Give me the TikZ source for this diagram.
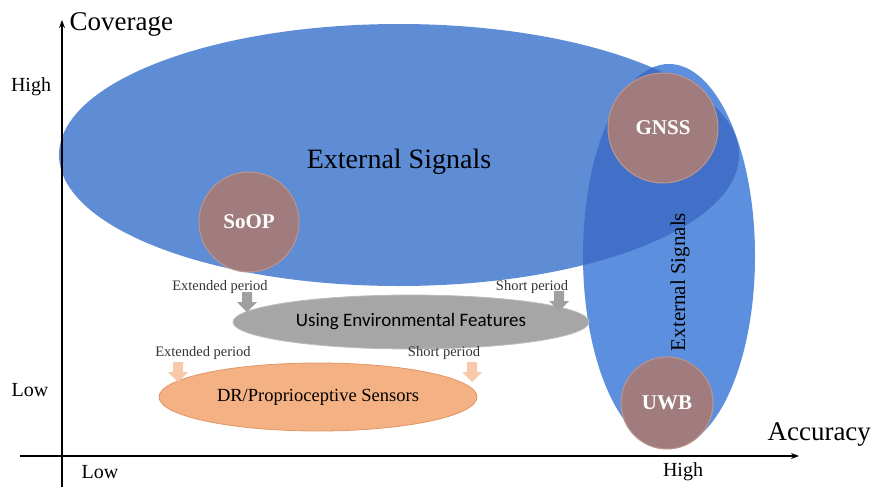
\documentclass[tikz,border=0pt]{standalone}
\usepackage{fontspec}
\setmainfont{Liberation Serif}
\newfontfamily\calfont{Carlito}
\usetikzlibrary{shapes.geometric,arrows.meta}
\definecolor{bigblue}{RGB}{94,141,214}
\definecolor{vblue}{RGB}{92,143,222}
\definecolor{overblue}{RGB}{66,112,200}
\definecolor{circfill}{RGB}{160,124,126}
\definecolor{circedge}{RGB}{190,150,140}
\definecolor{grayfill}{RGB}{166,166,166}
\definecolor{grayedge}{RGB}{190,190,190}
\definecolor{orfill}{RGB}{244,177,131}
\definecolor{oredge}{RGB}{226,150,100}
\definecolor{grayarrow}{RGB}{160,160,160}
\definecolor{orarrow}{RGB}{248,200,170}
\tikzset{
  region/.style={ellipse, inner sep=0pt},
  tech/.style={circle, fill=circfill, draw=circedge, line width=1pt, inner sep=0pt,
    text=white, font=\bfseries\fontsize{21}{23}\selectfont},
  period/.style={font=\fontsize{14.5}{16}\selectfont, inner sep=1pt, text=black!80},
  axislab/.style={font=\fontsize{20}{22}\selectfont},
  blockgray/.style={draw=none, fill=grayarrow},
  blockor/.style={draw=none, fill=orarrow},
}
\newcommand{\blockarrow}[3]{% style, x, ytop
  \fill[#1] (#2-5,#3) -- (#2+5,#3) -- (#2+5,#3+10) -- (#2+10,#3+10) -- (#2,#3+20) -- (#2-10,#3+10) -- (#2-5,#3+10) -- cycle;}
\begin{document}
\begin{tikzpicture}[x=1pt,y=-1pt]
\useasboundingbox (0,0) rectangle (872,487);
% regions
\node[region, fill=bigblue, minimum width=680pt, minimum height=262pt] (ext) at (399,155) {};
\node[region, fill=vblue, minimum width=172pt, minimum height=384pt] (vext) at (669,256) {};
\begin{scope}
  \clip (399,155) ellipse [x radius=340, y radius=131];
  \fill[overblue] (669,256) ellipse [x radius=86, y radius=192];
\end{scope}
\node[font=\fontsize{28}{30}\selectfont] (exttxt) at (399,162) {External Signals};
\node[font=\fontsize{21}{23}\selectfont, rotate=90] (vexttxt) at (680,282) {External Signals};
% gray ellipse
\node[region, fill=grayfill, draw=grayedge, line width=0.8pt, minimum width=356pt, minimum height=54pt,
  font=\calfont\fontsize{19}{21}\selectfont] (env) at (411,322) {Using Environmental Features};
% orange ellipse
\node[region, fill=orfill, draw=oredge, line width=0.8pt, minimum width=318pt, minimum height=68pt,
  font=\fontsize{18.5}{20}\selectfont] (dr) at (318,397) {DR/Proprioceptive Sensors};
% tech circles
\node[tech, minimum size=110pt] (gnss) at (663,128) {GNSS};
\node[tech, minimum size=100pt] (soop) at (249,222) {SoOP};
\node[tech, minimum size=92pt] (uwb) at (667,403) {UWB};
% period labels
\node[period] (ep1) at (220,287) {Extended period};
\node[period] (sp1) at (532,287) {Short period};
\node[period] (ep2) at (203,353) {Extended period};
\node[period] (sp2) at (444,353) {Short period};
\blockarrow{blockgray}{247}{292}
\blockarrow{blockgray}{559}{291}
\blockarrow{blockor}{178}{362}
\blockarrow{blockor}{472}{362}
% axes
\coordinate (yb) at (62,487);
\coordinate (yt) at (62,20);
\coordinate (xl) at (20,456);
\coordinate (xr) at (799,456);
\draw[line width=1.4pt, -{Stealth[length=8pt,width=6pt]}] (yb) -- (yt);
\draw[line width=1.4pt, -{Stealth[length=8pt,width=6pt]}] (xl) -- (xr);
\node[font=\fontsize{27}{29}\selectfont, anchor=west] (cov) at (66,24) {Coverage};
\node[font=\fontsize{27}{29}\selectfont, anchor=west] (acc) at (764,434) {Accuracy};
\node[axislab] (yhigh) at (31,87) {High};
\node[axislab] (ylow) at (30,390) {Low};
\node[axislab] (xlow) at (100,472) {Low};
\node[axislab] (xhigh) at (683,472) {High};
\end{tikzpicture}
\end{document}
